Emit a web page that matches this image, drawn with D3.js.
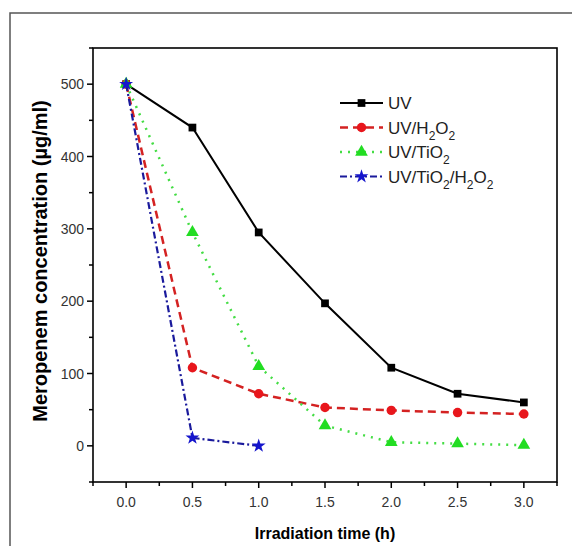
<!DOCTYPE html>
<html>
<head>
<meta charset="utf-8">
<script src="https://cdn.jsdelivr.net/npm/d3@7"></script>
<style>
  body { margin: 0; background: #fff; }
  svg { display: block; font-family: "Liberation Sans", Arial, sans-serif; }
</style>
</head>
<body>
<svg id="chart" width="572" height="546"></svg>
<script>
// irradiation time (h)
const times = [0, 0.5, 1.0, 1.5, 2.0, 2.5, 3.0];
const uv = [500, 440, 295, 197, 108, 72, 60];
const uvH2O2 = [500, 108, 72, 53, 49, 46, 44];
const uvTiO2 = [500, 295, 110, 28, 5, 3, 1];
const timesAll = [0, 0.5, 1.0];
const uvTiO2H2O2 = [500, 11, 0];
const xTicks = [0, 0.5, 1.0, 1.5, 2.0, 2.5, 3.0];
const yTicks = [0, 100, 200, 300, 400, 500];

const svg = d3.select('#chart');
const m = { left: 93, top: 48, right: 557, bottom: 482 };

const x = d3.scaleLinear().domain([-0.25, 3.25]).range([m.left, m.right]);
const y = d3.scaleLinear().domain([-50, 550]).range([m.bottom, m.top]);

// outer frame of the figure
svg.append('rect')
  .attr('x', 10).attr('y', 13).attr('width', 580).attr('height', 560)
  .attr('fill', 'none').attr('stroke', '#555').attr('stroke-width', 1.5);

// minor ticks
const minorX = d3.range(-0.25, 3.26, 0.25);
const minorY = d3.range(-50, 551, 50);

svg.append('g').selectAll('line').data(minorX).enter().append('line')
  .attr('x1', d => x(d)).attr('x2', d => x(d))
  .attr('y1', m.bottom).attr('y2', d => m.bottom + (xTicks.some(t => Math.abs(t - d) < 1e-6) ? 6 : 4))
  .attr('stroke', '#000').attr('stroke-width', 1.5);

svg.append('g').selectAll('line').data(minorY).enter().append('line')
  .attr('y1', d => y(d)).attr('y2', d => y(d))
  .attr('x1', m.left).attr('x2', d => m.left - (yTicks.includes(d) ? 6 : 4))
  .attr('stroke', '#000').attr('stroke-width', 1.5);

// tick labels
svg.append('g').selectAll('text').data(xTicks).enter().append('text')
  .attr('x', d => x(d)).attr('y', 507)
  .attr('text-anchor', 'middle').attr('font-size', 14).attr('fill', '#333')
  .text(d => d.toFixed(1));

svg.append('g').selectAll('text').data(yTicks).enter().append('text')
  .attr('x', 84).attr('y', d => y(d) + 5)
  .attr('text-anchor', 'end').attr('font-size', 14).attr('fill', '#333')
  .text(d => d);

// plot box
svg.append('rect')
  .attr('x', m.left).attr('y', m.top)
  .attr('width', m.right - m.left).attr('height', m.bottom - m.top)
  .attr('fill', 'none').attr('stroke', '#000').attr('stroke-width', 1.6);

// axis titles
svg.append('text')
  .attr('x', (m.left + m.right) / 2).attr('y', 539)
  .attr('text-anchor', 'middle').attr('font-size', 16).attr('font-weight', 'bold')
  .text('Irradiation time (h)');

svg.append('text')
  .attr('transform', `translate(47, 261) rotate(-90)`)
  .attr('text-anchor', 'middle').attr('font-size', 20).attr('font-weight', 'bold')
  .text('Meropenem concentration (µg/ml)');

const series = [
  { name: ['UV'], xs: times, ys: uv, line: '#000', fill: '#000', dash: null, width: 2, sym: d3.symbolSquare, size: 60 },
  { name: ['UV/H', '2', 'O', '2'], xs: times, ys: uvH2O2, line: '#d42222', fill: '#e8161c', dash: '8,5', width: 2.5, sym: d3.symbolCircle, size: 70 },
  { name: ['UV/TiO', '2'], xs: times, ys: uvTiO2, line: '#44dd44', fill: '#22dd22', dash: '2,6', width: 2.5, sym: d3.symbolTriangle, size: 70 },
  { name: ['UV/TiO', '2', '/H', '2', 'O', '2'], xs: timesAll, ys: uvTiO2H2O2, line: '#1a1a9c', fill: '#1515cc', dash: '7,3,2,3', width: 2.2, sym: d3.symbolStar, size: 60 }
];

const line = d3.line().x(d => x(d[0])).y(d => y(d[1]));

series.forEach(s => {
  const pts = s.xs.map((t, i) => [t, s.ys[i]]);
  svg.append('path')
    .attr('d', line(pts))
    .attr('fill', 'none').attr('stroke', s.line)
    .attr('stroke-width', s.width)
    .attr('stroke-dasharray', s.dash);
  svg.append('g').selectAll('path').data(pts).enter().append('path')
    .attr('transform', d => `translate(${x(d[0])},${y(d[1])})`)
    .attr('d', d3.symbol().type(s.sym).size(s.size))
    .attr('fill', s.fill);
});

// legend
const legend = svg.append('g');
series.forEach((s, i) => {
  const ly = 103 + i * 24.5;
  legend.append('line')
    .attr('x1', 340).attr('x2', 383).attr('y1', ly).attr('y2', ly)
    .attr('stroke', s.line).attr('stroke-width', s.width)
    .attr('stroke-dasharray', s.dash);
  legend.append('path')
    .attr('transform', `translate(361.5,${ly})`)
    .attr('d', d3.symbol().type(s.sym).size(s.size))
    .attr('fill', s.fill);
  const t = legend.append('text')
    .attr('x', 388).attr('y', ly + 6)
    .attr('font-size', 17).attr('fill', '#222');
  s.name.forEach((part, k) => {
    const sub = k % 2 === 1;
    t.append('tspan')
      .attr('dy', k === 0 ? 0 : (sub ? 6 : -6))
      .attr('font-size', sub ? 12 : 17)
      .text(part);
  });
});
</script>
</body>
</html>
